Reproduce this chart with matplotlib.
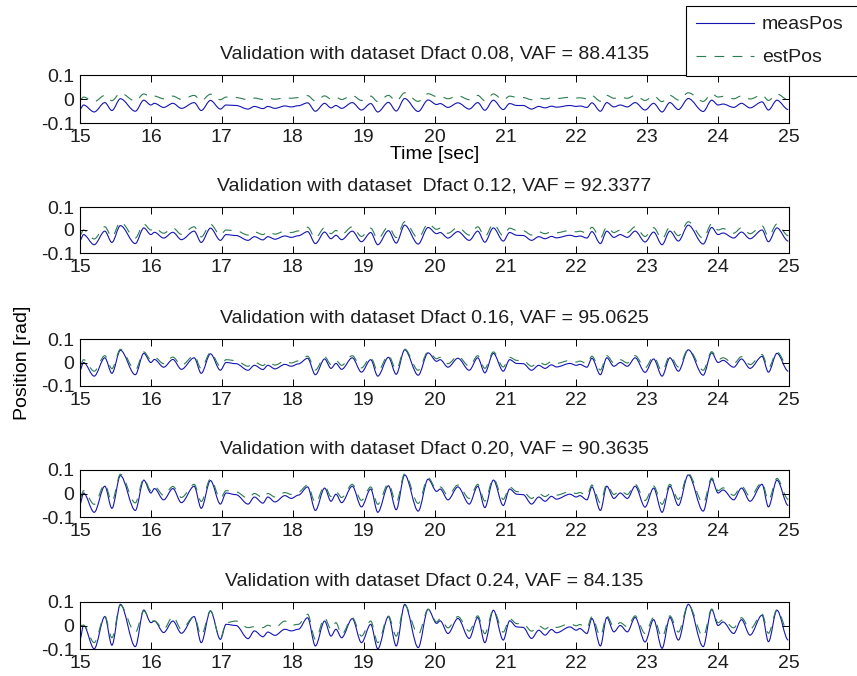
import matplotlib
matplotlib.use("Agg")
import matplotlib.pyplot as plt
from matplotlib.lines import Line2D
from matplotlib.path import Path
from matplotlib.patches import PathPatch

plt.rcParams['font.family'] = ['Liberation Sans', 'DejaVu Sans']
plt.rcParams['font.size'] = 14
plt.rcParams['lines.scale_dashes'] = False
plt.rcParams['text.color'] = '#1e1e1e'
plt.rcParams['xtick.labelcolor'] = '#1e1e1e'
plt.rcParams['ytick.labelcolor'] = '#1e1e1e'

# time stamps of the turning points (sec), shared by all five runs
t = [15.00, 15.05, 15.20, 15.35, 15.45, 15.57, 15.78, 15.90, 16.00, 16.05,
     16.18, 16.31, 16.43, 16.61, 16.71, 16.84, 16.98, 17.06, 17.20, 17.37,
     17.46, 17.58, 17.65, 17.75, 17.89, 17.98, 18.08, 18.21, 18.32, 18.45,
     18.54, 18.61, 18.69, 18.84, 18.97, 19.10, 19.20, 19.35, 19.46, 19.58,
     19.77, 19.91, 20.03, 20.08, 20.19, 20.33, 20.49, 20.61, 20.71, 20.83,
     20.97, 21.06, 21.16, 21.25, 21.37, 21.47, 21.56, 21.65, 21.72, 21.91,
     22.00, 22.05, 22.15, 22.22, 22.34, 22.43, 22.53, 22.62, 22.72, 22.83,
     22.97, 23.09, 23.21, 23.32, 23.44, 23.58, 23.79, 23.91, 24.00, 24.07,
     24.22, 24.33, 24.45, 24.62, 24.71, 24.83, 24.99]

# Dfact 0.08
meas_008 = [-0.042, -0.025, -0.054, -0.015, -0.048, 0.001, -0.051, -0.005, -0.025, -0.018,
            -0.035, -0.018, -0.039, -0.015, -0.048, -0.006, -0.042, -0.025, -0.027, -0.042,
            -0.031, -0.040, -0.031, -0.039, -0.029, -0.033, -0.028, -0.016, -0.051, -0.018,
            -0.037, -0.027, -0.039, -0.015, -0.046, -0.019, -0.054, -0.014, -0.050, 0.002,
            -0.052, -0.004, -0.023, -0.019, -0.035, -0.016, -0.042, -0.015, -0.047, -0.005,
            -0.044, -0.019, -0.027, -0.027, -0.042, -0.031, -0.037, -0.030, -0.034, -0.027,
            -0.031, -0.029, -0.035, -0.016, -0.051, -0.015, -0.033, -0.025, -0.033, -0.015,
            -0.046, -0.018, -0.054, -0.015, -0.044, 0.002, -0.052, -0.005, -0.025, -0.021,
            -0.035, -0.018, -0.037, -0.012, -0.046, -0.005, -0.044]
est_008 = [-0.003, 0.008, -0.011, 0.015, -0.007, 0.025, -0.009, 0.021, 0.008, 0.012,
           0.001, 0.012, -0.002, 0.015, -0.007, 0.020, -0.003, 0.008, 0.006, -0.003,
           0.004, -0.002, 0.004, -0.001, 0.005, 0.003, 0.006, 0.014, -0.009, 0.013,
           0.000, 0.007, -0.002, 0.015, -0.006, 0.012, -0.011, 0.015, -0.009, 0.026,
           -0.010, 0.022, 0.010, 0.012, 0.001, 0.014, -0.003, 0.015, -0.007, 0.021,
           -0.004, 0.012, 0.007, 0.006, -0.003, 0.004, 0.000, 0.005, 0.002, 0.007,
           0.004, 0.005, 0.001, 0.014, -0.009, 0.015, 0.003, 0.008, 0.003, 0.015,
           -0.006, 0.013, -0.011, 0.015, -0.004, 0.026, -0.010, 0.022, 0.008, 0.011,
           0.001, 0.013, 0.000, 0.017, -0.006, 0.021, -0.004]

# Dfact 0.12
meas_012 = [-0.045, -0.020, -0.064, -0.005, -0.054, 0.019, -0.059, 0.009, -0.020, -0.010,
            -0.035, -0.010, -0.042, -0.005, -0.054, 0.008, -0.045, -0.020, -0.024, -0.045,
            -0.029, -0.043, -0.029, -0.040, -0.026, -0.032, -0.025, -0.007, -0.059, -0.009,
            -0.038, -0.023, -0.042, -0.005, -0.051, -0.011, -0.064, -0.003, -0.057, 0.021,
            -0.061, 0.011, -0.016, -0.011, -0.035, -0.007, -0.045, -0.005, -0.053, 0.009,
            -0.048, -0.011, -0.023, -0.024, -0.045, -0.029, -0.038, -0.028, -0.034, -0.023,
            -0.029, -0.026, -0.035, -0.007, -0.059, -0.005, -0.032, -0.020, -0.032, -0.005,
            -0.052, -0.009, -0.064, -0.005, -0.048, 0.021, -0.061, 0.011, -0.020, -0.013,
            -0.035, -0.009, -0.038, 0.000, -0.051, 0.009, -0.048]
est_012 = [-0.022, 0.000, -0.039, 0.014, -0.030, 0.035, -0.035, 0.026, 0.000, 0.009,
           -0.014, 0.009, -0.019, 0.014, -0.030, 0.025, -0.022, 0.000, -0.003, -0.022,
           -0.008, -0.020, -0.008, -0.018, -0.005, -0.011, -0.004, 0.012, -0.035, 0.010,
           -0.016, -0.002, -0.019, 0.014, -0.028, 0.008, -0.039, 0.015, -0.033, 0.036,
           -0.036, 0.028, 0.003, 0.008, -0.014, 0.012, -0.022, 0.014, -0.029, 0.026,
           -0.025, 0.008, -0.002, -0.003, -0.022, -0.008, -0.016, -0.007, -0.012, -0.002,
           -0.008, -0.005, -0.014, 0.012, -0.035, 0.014, -0.011, 0.000, -0.011, 0.014,
           -0.028, 0.010, -0.039, 0.014, -0.025, 0.036, -0.036, 0.027, 0.000, 0.006,
           -0.014, 0.010, -0.016, 0.018, -0.028, 0.026, -0.025]

# Dfact 0.16
meas_016 = [-0.033, 0.000, -0.058, 0.020, -0.046, 0.052, -0.052, 0.039, 0.000, 0.013,
            -0.020, 0.013, -0.029, 0.020, -0.046, 0.037, -0.033, 0.000, -0.005, -0.033,
            -0.012, -0.030, -0.012, -0.027, -0.008, -0.016, -0.006, 0.018, -0.052, 0.015,
            -0.025, -0.004, -0.029, 0.020, -0.041, 0.012, -0.058, 0.022, -0.050, 0.054,
            -0.054, 0.041, 0.005, 0.012, -0.020, 0.018, -0.033, 0.020, -0.044, 0.039,
            -0.037, 0.012, -0.004, -0.005, -0.033, -0.012, -0.025, -0.010, -0.019, -0.004,
            -0.012, -0.008, -0.020, 0.018, -0.052, 0.020, -0.016, 0.000, -0.016, 0.020,
            -0.042, 0.015, -0.058, 0.020, -0.037, 0.054, -0.054, 0.041, 0.000, 0.009,
            -0.020, 0.015, -0.025, 0.026, -0.041, 0.039, -0.037]
est_016 = [-0.016, 0.012, -0.037, 0.029, -0.026, 0.056, -0.032, 0.045, 0.012, 0.023,
           -0.005, 0.023, -0.012, 0.029, -0.026, 0.043, -0.016, 0.012, 0.008, -0.016,
           0.002, -0.013, 0.002, -0.011, 0.006, -0.002, 0.007, 0.027, -0.032, 0.025,
           -0.009, 0.009, -0.012, 0.029, -0.023, 0.022, -0.037, 0.031, -0.030, 0.057,
           -0.033, 0.047, 0.016, 0.022, -0.005, 0.027, -0.016, 0.029, -0.025, 0.045,
           -0.019, 0.022, 0.009, 0.008, -0.016, 0.002, -0.009, 0.004, -0.004, 0.009,
           0.002, 0.006, -0.005, 0.027, -0.032, 0.029, -0.002, 0.012, -0.002, 0.029,
           -0.023, 0.025, -0.037, 0.029, -0.019, 0.057, -0.033, 0.046, 0.012, 0.020,
           -0.005, 0.025, -0.009, 0.034, -0.023, 0.045, -0.019]

# Dfact 0.20
meas_020 = [-0.045, 0.002, -0.080, 0.031, -0.063, 0.076, -0.072, 0.057, 0.002, 0.021,
            -0.027, 0.021, -0.039, 0.031, -0.063, 0.055, -0.045, 0.002, -0.005, -0.045,
            -0.015, -0.041, -0.015, -0.036, -0.009, -0.021, -0.007, 0.028, -0.072, 0.023,
            -0.033, -0.003, -0.039, 0.031, -0.057, 0.019, -0.080, 0.033, -0.069, 0.079,
            -0.075, 0.061, 0.009, 0.019, -0.027, 0.028, -0.045, 0.031, -0.060, 0.057,
            -0.051, 0.019, -0.003, -0.005, -0.045, -0.015, -0.033, -0.012, -0.024, -0.003,
            -0.015, -0.009, -0.027, 0.028, -0.072, 0.031, -0.021, 0.002, -0.021, 0.031,
            -0.058, 0.023, -0.080, 0.031, -0.051, 0.079, -0.075, 0.060, 0.002, 0.015,
            -0.027, 0.023, -0.033, 0.039, -0.057, 0.057, -0.051]
est_020 = [-0.021, 0.012, -0.046, 0.039, -0.034, 0.082, -0.040, 0.064, 0.012, 0.030,
           -0.008, 0.030, -0.017, 0.039, -0.034, 0.062, -0.021, 0.012, 0.007, -0.021,
           0.000, -0.018, 0.000, -0.015, 0.004, -0.004, 0.006, 0.036, -0.040, 0.032,
           -0.013, 0.008, -0.017, 0.039, -0.029, 0.028, -0.046, 0.042, -0.038, 0.084,
           -0.042, 0.067, 0.018, 0.028, -0.008, 0.036, -0.021, 0.039, -0.032, 0.064,
           -0.025, 0.028, 0.008, 0.007, -0.021, 0.000, -0.013, 0.002, -0.007, 0.008,
           0.000, 0.004, -0.008, 0.036, -0.040, 0.039, -0.004, 0.012, -0.004, 0.039,
           -0.030, 0.032, -0.046, 0.039, -0.025, 0.084, -0.042, 0.066, 0.012, 0.024,
           -0.008, 0.032, -0.013, 0.047, -0.029, 0.064, -0.025]

# Dfact 0.24
meas_024 = [-0.059, 0.001, -0.099, 0.038, -0.084, 0.090, -0.090, 0.066, 0.012, 0.019,
            -0.030, 0.019, -0.033, 0.038, -0.073, 0.062, -0.059, 0.005, 0.000, -0.056,
            -0.023, -0.048, -0.028, -0.042, -0.016, -0.023, -0.016, 0.033, -0.087, 0.019,
            -0.045, -0.016, -0.052, 0.029, -0.073, 0.005, -0.099, 0.038, -0.087, 0.090,
            -0.094, 0.069, 0.009, 0.020, -0.034, 0.030, -0.055, 0.034, -0.073, 0.065,
            -0.062, 0.020, -0.006, -0.008, -0.055, -0.020, -0.041, -0.017, -0.031, -0.006,
            -0.020, -0.013, -0.034, 0.030, -0.087, 0.034, -0.027, 0.000, -0.027, 0.034,
            -0.070, 0.025, -0.097, 0.034, -0.062, 0.090, -0.090, 0.068, 0.000, 0.015,
            -0.034, 0.025, -0.041, 0.044, -0.069, 0.065, -0.062]
est_024 = [0.000, 0.001, -0.073, 0.040, -0.052, 0.086, -0.030, 0.062, 0.019, 0.019,
           -0.016, 0.038, -0.016, 0.038, -0.042, 0.062, -0.056, 0.012, 0.019, -0.009,
           -0.005, -0.009, 0.001, -0.009, 0.019, 0.001, 0.005, 0.048, -0.059, 0.033,
           -0.016, 0.012, -0.038, 0.033, -0.045, 0.019, -0.073, 0.040, -0.045, 0.086,
           -0.038, 0.069, 0.015, 0.029, -0.010, 0.038, -0.024, 0.041, -0.035, 0.067,
           -0.028, 0.029, 0.008, 0.007, -0.024, -0.001, -0.015, 0.001, -0.008, 0.008,
           -0.001, 0.004, -0.010, 0.038, -0.045, 0.041, -0.006, 0.012, -0.006, 0.041,
           -0.034, 0.033, -0.051, 0.041, -0.028, 0.089, -0.047, 0.070, 0.012, 0.025,
           -0.010, 0.033, -0.015, 0.049, -0.033, 0.067, -0.028]

titles = ["Validation with dataset Dfact 0.08, VAF = 88.4135",
          "Validation with dataset  Dfact 0.12, VAF = 92.3377",
          "Validation with dataset Dfact 0.16, VAF = 95.0625",
          "Validation with dataset Dfact 0.20, VAF = 90.3635",
          "Validation with dataset Dfact 0.24, VAF = 84.135"]
meas = [meas_008, meas_012, meas_016, meas_020, meas_024]
est = [est_008, est_012, est_016, est_020, est_024]

xticks = [15, 16, 17, 18, 19, 20, 21, 22, 23, 24, 25]
yticks = [-0.1, 0, 0.1]
ytick_labels = ["-0.1", "0", "0.1"]

blue = "#1414b4"
green = "#2a7d50"
dash = (0, (7, 6))


def turning_path(x, y):
    # smooth curve through turning points: flat tangent at every point
    verts = [(x[0], y[0])]
    codes = [Path.MOVETO]
    for i in range(len(x) - 1):
        d = (x[i + 1] - x[i]) / 3.0
        verts += [(x[i] + d, y[i]), (x[i + 1] - d, y[i + 1]), (x[i + 1], y[i + 1])]
        codes += [Path.CURVE4] * 3
    return Path(verts, codes)


W, H = 857, 676
fig = plt.figure(figsize=(W / 100, H / 100), dpi=100)

# axes boxes in pixels: (top, bottom)
boxes = [(75, 123), (207, 253), (339, 386), (470, 517), (602, 649)]
left, right = 80, 789

axes = []
for i, (top, bot) in enumerate(boxes):
    ax = fig.add_axes([left / W, 1 - bot / H, (right - left) / W, (bot - top) / H])
    ax.add_patch(PathPatch(turning_path(t, meas[i]), fill=False, edgecolor=blue, lw=0.8))
    ax.add_patch(PathPatch(turning_path(t, est[i]), fill=False, edgecolor=green, lw=0.8,
                           linestyle=dash))
    ax.set_xlim(15, 25)
    ax.set_ylim(-0.1, 0.1)
    ax.set_xticks(xticks)
    ax.set_yticks(yticks)
    ax.set_yticklabels(ytick_labels)
    ax.tick_params(direction="in", top=True, right=True, length=5, width=0.7,
                   labelsize=14, pad=4)
    for s in ax.spines.values():
        s.set_linewidth(0.8)
    ax.set_title(titles[i], fontsize=14, pad=12)
    axes.append(ax)

axes[0].set_xlabel("Time [sec]", fontsize=14, labelpad=0)
axes[2].set_ylabel("Position [rad]", fontsize=14, labelpad=7)

handles = [Line2D([], [], color=blue, lw=0.8),
           Line2D([], [], color=green, lw=0.8, linestyle=dash)]
leg = fig.legend(handles, ["measPos", "estPos"], loc="upper left",
                 bbox_to_anchor=(686 / W, 1 - 75 / H, 200 / W, 69 / H),
                 mode="expand", fancybox=False, framealpha=1, edgecolor="black",
                 handlelength=3.0, handletextpad=0.4, labelspacing=0.8,
                 borderpad=0.5, fontsize=14, borderaxespad=0)
leg.get_frame().set_linewidth(0.8)

fig.savefig("out.png", dpi=100)
